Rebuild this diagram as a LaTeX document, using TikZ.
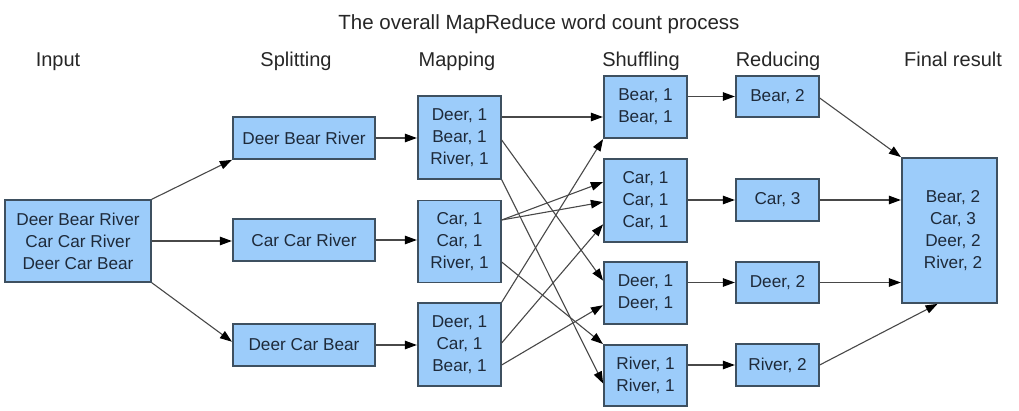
\documentclass[tikz,border=0pt]{standalone}
\usepackage{fontspec}
\setmainfont{Liberation Sans}
\usetikzlibrary{arrows.meta}
\definecolor{boxfill}{RGB}{156,204,250}
\definecolor{boxline}{RGB}{62,80,96}
\definecolor{boxtext}{RGB}{30,42,58}
\definecolor{arrowc}{RGB}{72,72,72}
\tikzset{
  box/.style={draw=boxline, line width=1.3pt, fill=boxfill, text=boxtext,
    align=center, inner sep=0pt, font=\fontsize{17.2}{22}\selectfont},
  hdr/.style={anchor=base, text=black!85, font=\fontsize{20}{24}\selectfont},
  arr/.style={draw=arrowc, line width=1.1pt, -{Triangle[length=12pt,width=8.5pt,color=black]}, shorten >=0.5pt}
}
\begin{document}
\begin{tikzpicture}[x=1pt,y=-1pt]
\useasboundingbox (0,0) rectangle (1019,411);
\node[hdr, font=\fontsize{20.5}{24}\selectfont] (title) at (539,30) {The overall MapReduce word count process};
\node[hdr] (h1) at (58,67) {Input};
\node[hdr] (h2) at (296,67) {Splitting};
\node[hdr] (h3) at (457,67) {Mapping};
\node[hdr] (h4) at (641,67) {Shuffling};
\node[hdr] (h5) at (778,67) {Reducing};
\node[hdr] (h6) at (953,67) {Final result};

\node[box, minimum width=146pt, minimum height=82pt] (in) at (78,241) {Deer Bear River\\Car Car River\\Deer Car Bear};

\node[box, minimum width=142pt, minimum height=42pt] (s1) at (304,138) {Deer Bear River};
\node[box, minimum width=142pt, minimum height=42pt] (s2) at (304,240) {Car Car River};
\node[box, minimum width=142pt, minimum height=42pt] (s3) at (304,345) {Deer Car Bear};

\node[box, minimum width=83pt, minimum height=83pt] (m1) at (459.5,137.5) {Deer, 1\\Bear, 1\\River, 1};
\node[box, minimum width=83pt, minimum height=82pt] (m2) at (459.5,241.5) {Car, 1\\Car, 1\\River, 1};
\node[box, minimum width=83pt, minimum height=83pt] (m3) at (459.5,344.5) {Deer, 1\\Car, 1\\Bear, 1};

\node[box, minimum width=83pt, minimum height=62pt] (sh1) at (645.5,107) {Bear, 1\\Bear, 1};
\node[box, minimum width=83pt, minimum height=83pt] (sh2) at (645.5,200.5) {Car, 1\\Car, 1\\Car, 1};
\node[box, minimum width=83pt, minimum height=62pt] (sh3) at (645.5,293) {Deer, 1\\Deer, 1};
\node[box, minimum width=83pt, minimum height=61pt] (sh4) at (645.5,375.5) {River, 1\\River, 1};

\node[box, minimum width=83pt, minimum height=41pt] (r1) at (777.5,96.5) {Bear, 2};
\node[box, minimum width=83pt, minimum height=42pt] (r2) at (777.5,200) {Car, 3};
\node[box, minimum width=83pt, minimum height=41pt] (r3) at (777.5,282.5) {Deer, 2};
\node[box, minimum width=83pt, minimum height=42pt] (r4) at (777.5,365) {River, 2};

\node[box, minimum width=95pt, minimum height=145pt] (f) at (949.5,230.5) {\hspace*{7pt}Bear, 2\\\hspace*{7pt}Car, 3\\\hspace*{7pt}Deer, 2\\\hspace*{7pt}River, 2};

% input -> splitting
\draw[arr] (in.north east) -- (s1.south west);
\draw[arr] (in.east) -- (in.east -| s2.west);
\draw[arr] (in.south east) -- ([yshift=3pt]s3.west);
% splitting -> mapping
\draw[arr] (s1.east) -- (s1.east -| m1.west);
\draw[arr] (s2.east) -- (s2.east -| m2.west);
\draw[arr] (s3.east) -- (s3.east -| m3.west);
% mapping -> shuffling
\draw[arr] ([yshift=20.5pt]m1.east) -- ([yshift=-10pt]sh1.west);
\draw[arr] ([yshift=-2.5pt]m1.east) -- ([yshift=12pt]sh3.west);
\draw[arr] (m1.south east) -- ([yshift=-8.5pt]sh4.west);
\draw[arr] ([yshift=21.5pt]m2.east) -- ([yshift=18.5pt]sh2.west);
\draw[arr] ([yshift=21.5pt]m2.east) -- ([yshift=-1.5pt]sh2.west);
\draw[arr] ([yshift=-20.5pt]m2.east) -- (sh4.north west);
\draw[arr] (m3.north east) -- (sh1.south west);
\draw[arr] ([yshift=1.5pt]m3.east) -- ([yshift=-23.5pt]sh2.west);
\draw[arr] ([yshift=-20.5pt]m3.east) -- ([yshift=-12pt]sh3.west);
% shuffling -> reducing
\draw[arr] (r1.west -| sh1.east) -- (r1.west);
\draw[arr] (r2.west -| sh2.east) -- (r2.west);
\draw[arr] (r3.west -| sh3.east) -- (r3.west);
\draw[arr] (r4.west -| sh4.east) -- (r4.west);
% reducing -> final
\draw[arr] ([yshift=-1.5pt]r1.east) -- (f.north west);
\draw[arr] (r2.east) -- (r2.east -| f.west);
\draw[arr] (r3.east) -- (r3.east -| f.west);
\draw[arr] (r4.east) -- ([xshift=-11.5pt]f.south);
\end{tikzpicture}
\end{document}
